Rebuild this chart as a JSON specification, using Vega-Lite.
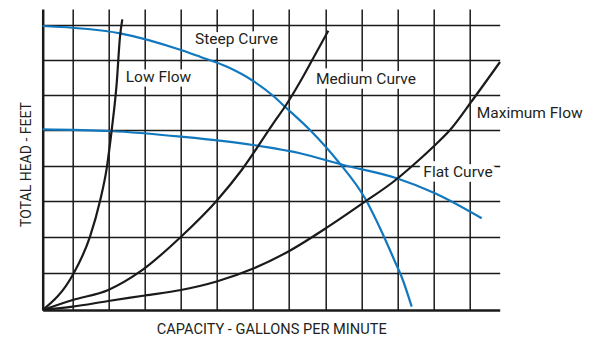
{
  "$schema": "https://vega.github.io/schema/vega-lite/v6.json",
  "width": 457,
  "height": 301,
  "autosize": "none",
  "padding": {"left": 42.7, "top": 9, "right": 95.3, "bottom": 27},
  "background": "white",
  "config": {"view": {"stroke": null}, "font": "Roboto"},
  "datasets": {
    "curves": [
      {"curve": "Steep", "x": 0, "y": 284},
      {"curve": "Steep", "x": 77.3, "y": 276.7},
      {"curve": "Steep", "x": 138.3, "y": 260},
      {"curve": "Steep", "x": 157.3, "y": 253.3},
      {"curve": "Steep", "x": 185, "y": 243},
      {"curve": "Steep", "x": 210.6, "y": 229},
      {"curve": "Steep", "x": 230.6, "y": 214},
      {"curve": "Steep", "x": 242.3, "y": 203.3},
      {"curve": "Steep", "x": 267.3, "y": 180},
      {"curve": "Steep", "x": 295.6, "y": 148.3},
      {"curve": "Steep", "x": 322.3, "y": 111.7},
      {"curve": "Steep", "x": 339, "y": 78.3},
      {"curve": "Steep", "x": 352.3, "y": 48.3},
      {"curve": "Steep", "x": 359, "y": 33},
      {"curve": "Steep", "x": 369, "y": 3.3},
      {"curve": "Flat", "x": 0, "y": 180.7},
      {"curve": "Flat", "x": 67.3, "y": 179},
      {"curve": "Flat", "x": 138.3, "y": 173.3},
      {"curve": "Flat", "x": 210.3, "y": 165},
      {"curve": "Flat", "x": 257.3, "y": 156.7},
      {"curve": "Flat", "x": 300.6, "y": 145},
      {"curve": "Flat", "x": 354, "y": 131.7},
      {"curve": "Flat", "x": 392.3, "y": 116.7},
      {"curve": "Flat", "x": 439, "y": 91.7},
      {"curve": "Low Flow", "x": 0, "y": 0},
      {"curve": "Low Flow", "x": 30, "y": 35},
      {"curve": "Low Flow", "x": 47.3, "y": 73.3},
      {"curve": "Low Flow", "x": 57.3, "y": 109},
      {"curve": "Low Flow", "x": 64, "y": 141.7},
      {"curve": "Low Flow", "x": 69, "y": 180},
      {"curve": "Low Flow", "x": 74, "y": 226.7},
      {"curve": "Low Flow", "x": 77.3, "y": 273.3},
      {"curve": "Low Flow", "x": 79.6, "y": 290.7},
      {"curve": "Medium", "x": 0, "y": 0},
      {"curve": "Medium", "x": 30, "y": 10},
      {"curve": "Medium", "x": 65.6, "y": 20},
      {"curve": "Medium", "x": 97.3, "y": 38.3},
      {"curve": "Medium", "x": 138.3, "y": 73.3},
      {"curve": "Medium", "x": 174, "y": 109.3},
      {"curve": "Medium", "x": 199, "y": 140},
      {"curve": "Medium", "x": 230.6, "y": 186.7},
      {"curve": "Medium", "x": 244, "y": 206},
      {"curve": "Medium", "x": 257.3, "y": 228},
      {"curve": "Medium", "x": 270.6, "y": 252},
      {"curve": "Medium", "x": 285.6, "y": 279.3},
      {"curve": "Maximum Flow", "x": 0, "y": 0},
      {"curve": "Maximum Flow", "x": 30, "y": 3.3},
      {"curve": "Maximum Flow", "x": 65.6, "y": 9},
      {"curve": "Maximum Flow", "x": 102.3, "y": 14.5},
      {"curve": "Maximum Flow", "x": 138.3, "y": 20},
      {"curve": "Maximum Flow", "x": 174, "y": 28.5},
      {"curve": "Maximum Flow", "x": 210.6, "y": 41.5},
      {"curve": "Maximum Flow", "x": 246.6, "y": 59},
      {"curve": "Maximum Flow", "x": 285.6, "y": 83.3},
      {"curve": "Maximum Flow", "x": 322.3, "y": 108.3},
      {"curve": "Maximum Flow", "x": 352.3, "y": 129.5},
      {"curve": "Maximum Flow", "x": 370.6, "y": 145},
      {"curve": "Maximum Flow", "x": 390.6, "y": 163.3},
      {"curve": "Maximum Flow", "x": 407.3, "y": 180},
      {"curve": "Maximum Flow", "x": 430.6, "y": 211},
      {"curve": "Maximum Flow", "x": 457.3, "y": 248}
    ],
    "labels": [
      {"label": "Steep Curve", "x": 193.8, "y": 271.5},
      {"label": "Low Flow", "x": 115.8, "y": 233},
      {"label": "Medium Curve", "x": 323.3, "y": 231},
      {"label": "Maximum Flow", "x": 487, "y": 197.5},
      {"label": "Flat Curve", "x": 415.3, "y": 138}
    ]
  },
  "layer": [
    {
      "data": {"name": "curves"},
      "mark": {"type": "line", "interpolate": "monotone", "strokeWidth": 2.2},
      "encoding": {
        "x": {
          "field": "x", "type": "quantitative",
          "scale": {"domain": [0, 457], "nice": false, "zero": false},
          "axis": {
            "title": "CAPACITY - GALLONS PER MINUTE",
            "values": [30, 66, 102, 138, 174, 210, 246, 283, 319, 355, 391, 427],
            "grid": true, "gridColor": "#1a1a1a", "gridWidth": 1.5, "gridOpacity": 1,
            "labels": false, "ticks": false,
            "domainColor": "#1a1a1a", "domainWidth": 2.5,
            "titleFont": "Roboto", "titleFontSize": 14.6, "titleFontWeight": "normal",
            "titleColor": "#231f20", "titleBaseline": "alphabetic", "titleY": 23.8
          }
        },
        "y": {
          "field": "y", "type": "quantitative",
          "scale": {"domain": [0, 301], "nice": false, "zero": false},
          "axis": {
            "title": "TOTAL HEAD - FEET",
            "values": [37.5, 73, 109, 144.5, 180.5, 215, 250.5, 285],
            "grid": true, "gridColor": "#1a1a1a", "gridWidth": 1.5, "gridOpacity": 1,
            "labels": false, "ticks": false,
            "domainColor": "#1a1a1a", "domainWidth": 2.5,
            "titleFont": "Roboto", "titleFontSize": 14, "titleFontWeight": "normal",
            "titleColor": "#231f20", "titleAngle": -90, "titleBaseline": "alphabetic",
            "titleAlign": "center", "titleX": -12.7, "titleY": 155
          }
        },
        "color": {
          "field": "curve", "type": "nominal",
          "scale": {"domain": ["Steep", "Flat", "Low Flow", "Medium", "Maximum Flow"],
                    "range": ["#1178c0", "#1178c0", "#1a1a1a", "#1a1a1a", "#1a1a1a"]},
          "legend": null
        }
      }
    },
    {
      "mark": {"type": "rule", "color": "#666666", "strokeWidth": 1.3},
      "encoding": {
        "x": {"datum": 462.3, "type": "quantitative"},
        "y": {"datum": 0, "type": "quantitative"},
        "y2": {"datum": 301}
      }
    },
    {
      "data": {"name": "labels"},
      "mark": {"type": "text", "font": "Roboto", "fontSize": 15.5, "fill": "white", "stroke": "white", "strokeWidth": 9, "align": "center", "baseline": "middle"},
      "encoding": {
        "x": {"field": "x", "type": "quantitative"},
        "y": {"field": "y", "type": "quantitative"},
        "text": {"field": "label"}
      }
    },
    {
      "data": {"name": "labels"},
      "mark": {"type": "text", "font": "Roboto", "fontSize": 15.5, "color": "#231f20", "align": "center", "baseline": "middle"},
      "encoding": {
        "x": {"field": "x", "type": "quantitative"},
        "y": {"field": "y", "type": "quantitative"},
        "text": {"field": "label"}
      }
    }
  ]
}
